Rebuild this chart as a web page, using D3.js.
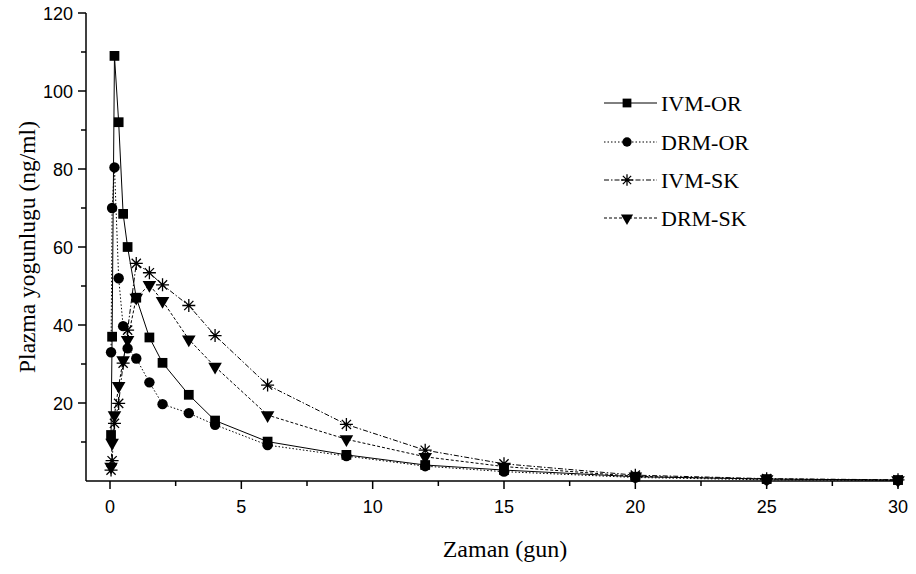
<!DOCTYPE html>
<html><head><meta charset="utf-8">
<script src="https://cdn.jsdelivr.net/npm/d3@7"></script>
<style>body{margin:0;background:#fff}svg{display:block}</style>
</head><body><svg id="c" width="916" height="574"></svg>
<script>
const times = [0.04, 0.08, 0.17, 0.33, 0.5, 0.67, 1, 1.5, 2, 3, 4, 6, 9, 12, 15, 20, 25, 30];
const ivmOR = [11.8, 37, 109, 92, 68.5, 60, 47, 36.8, 30.3, 22.1, 15.5, 10.1, 6.7, 4.1, 2.8, 1.1, 0.5, 0.25];
const drmOR = [33, 70, 80.4, 52, 39.7, 34, 31.4, 25.3, 19.7, 17.4, 14.4, 9.2, 6.4, 3.8, 2.4, 0.9, 0.3, 0.15];
const ivmSK = [2.8, 5.2, 14.8, 19.9, 30.2, 38.7, 55.8, 53.4, 50.3, 45, 37.3, 24.6, 14.5, 7.9, 4.4, 1.5, 0.6, 0.3];
const drmSK = [3.7, 9.8, 16.9, 24.4, 31, 36.2, 47, 50.3, 46.2, 36.3, 29.3, 16.9, 10.7, 6.2, 3.7, 1.2, 0.5, 0.2];
const seriesNames = ["IVM-OR", "DRM-OR", "IVM-SK", "DRM-SK"];
const xTicks = [0, 5, 10, 15, 20, 25, 30];
const yTicks = [20, 40, 60, 80, 100, 120];

const svg = d3.select("#c");
const x = d3.scaleLinear().domain([0, 30]).range([110, 898]);
const y = d3.scaleLinear().domain([0, 120]).range([481, 13]);
const axisX0 = 86;

const series = [
  {name: seriesNames[0], vals: ivmOR, dash: null, sym: d3.symbolSquare, size: 95, rot: 0},
  {name: seriesNames[1], vals: drmOR, dash: "1.5,2", sym: d3.symbolCircle, size: 85, rot: 0},
  {name: seriesNames[2], vals: ivmSK, dash: "5,2,1.5,2", sym: "star", size: 0, rot: 0},
  {name: seriesNames[3], vals: drmSK, dash: "3,2", sym: d3.symbolTriangle, size: 80, rot: 180}
];

function drawMarker(g, s, cx, cy, scale) {
  scale = scale || 1;
  if (s.sym === "star") {
    const r = 6.5 * scale;
    const p = [];
    for (let i = 0; i < 4; i++) {
      const a = i * Math.PI / 4;
      p.push(`M${cx - r*Math.cos(a)},${cy - r*Math.sin(a)}L${cx + r*Math.cos(a)},${cy + r*Math.sin(a)}`);
    }
    g.append("path").attr("d", p.join("")).attr("stroke", "#000").attr("stroke-width", 1.3).attr("fill", "none");
  } else {
    g.append("path").attr("d", d3.symbol().type(s.sym).size(s.size * scale * scale)())
      .attr("transform", `translate(${cx},${cy}) rotate(${s.rot})`).attr("fill", "#000");
  }
}

// lines
const line = d3.line().x((d, i) => x(times[i])).y(d => y(d));
series.forEach(s => {
  svg.append("path").datum(s.vals).attr("d", line).attr("fill", "none")
    .attr("stroke", "#000").attr("stroke-width", 1).attr("stroke-dasharray", s.dash);
});
series.forEach(s => {
  const g = svg.append("g");
  s.vals.forEach((v, i) => drawMarker(g, s, x(times[i]), y(v)));
});

// axes
const ax = svg.append("g").attr("stroke", "#000").attr("stroke-width", 1.5);
ax.append("line").attr("x1", axisX0).attr("x2", x(30)).attr("y1", y(0)).attr("y2", y(0));
ax.append("line").attr("x1", axisX0).attr("x2", axisX0).attr("y1", y(0)).attr("y2", y(120));
d3.range(0, 30.1, 2.5).forEach(t => {
  const major = t % 5 === 0;
  ax.append("line").attr("x1", x(t)).attr("x2", x(t)).attr("y1", y(0)).attr("y2", y(0) + (major ? 8 : 5));
});
d3.range(10, 120.1, 10).forEach(t => {
  const major = t % 20 === 0;
  ax.append("line").attr("x1", axisX0).attr("x2", axisX0 - (major ? 8 : 5)).attr("y1", y(t)).attr("y2", y(t));
});
const tf = "'Liberation Sans', Arial, sans-serif";
xTicks.forEach(t => svg.append("text").attr("x", x(t)).attr("y", y(0) + 32).attr("text-anchor", "middle")
  .attr("font-family", tf).attr("font-size", 18).text(t));
yTicks.forEach(t => svg.append("text").attr("x", axisX0 - 13).attr("y", y(t) + 6.5).attr("text-anchor", "end")
  .attr("font-family", tf).attr("font-size", 18).text(t));

const sf = "'Liberation Serif', 'Times New Roman', serif";
svg.append("text").attr("x", 505).attr("y", 557).attr("text-anchor", "middle")
  .attr("font-family", sf).attr("font-size", 24).text("Zaman (gun)");
svg.append("text").attr("transform", "translate(35,247) rotate(-90)").attr("text-anchor", "middle")
  .attr("font-family", sf).attr("font-size", 23.5).text("Plazma yogunlugu (ng/ml)");

// legend
const legY = [103, 142, 180, 218];
series.forEach((s, i) => {
  const g = svg.append("g");
  g.append("line").attr("x1", 604).attr("x2", 657).attr("y1", legY[i]).attr("y2", legY[i])
    .attr("stroke", "#000").attr("stroke-width", 1).attr("stroke-dasharray", s.dash);
  drawMarker(g, s, 627, legY[i], 0.9);
  g.append("text").attr("x", 661).attr("y", legY[i] + 8).attr("font-family", sf).attr("font-size", 22).text(s.name);
});
</script></body></html>
